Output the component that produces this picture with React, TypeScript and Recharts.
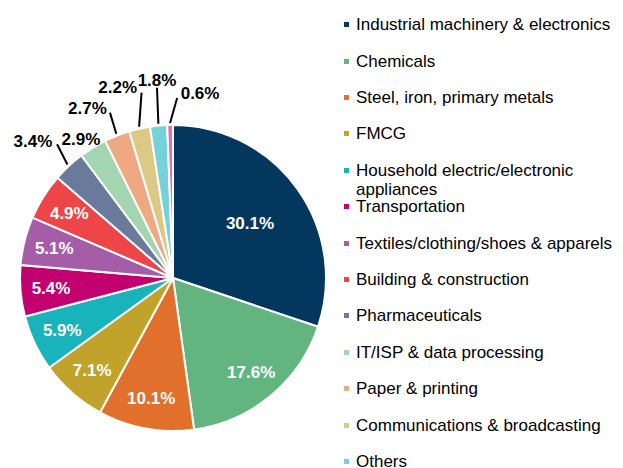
import React from "react";
import { PieChart, Pie, Cell, Legend } from "recharts";

const categories = [
  "Industrial machinery & electronics",
  "Chemicals",
  "Steel, iron, primary metals",
  "FMCG",
  "Household electric/electronic appliances",
  "Transportation",
  "Textiles/clothing/shoes & apparels",
  "Building & construction",
  "Pharmaceuticals",
  "IT/ISP & data processing",
  "Paper & printing",
  "Communications & broadcasting",
  "Others",
  "Unclassified",
];

const shares = [30.1, 17.6, 10.1, 7.1, 5.9, 5.4, 5.1, 4.9, 3.4, 2.9, 2.7, 2.2, 1.8, 0.6];

const colors = [
  "#04375E",
  "#63B57F",
  "#E0702C",
  "#C1A32B",
  "#19B4BB",
  "#C2006F",
  "#A65DA8",
  "#EE4548",
  "#6A7A9A",
  "#A2D5B0",
  "#EEA983",
  "#DBC985",
  "#75D2D8",
  "#E56DB1",
];

const data = categories.map((name, i) => ({ name, value: shares[i] }));

const FONT = "'Liberation Sans', Arial, Helvetica, sans-serif";
const LABEL_SIZE = 17;

// Outer label layout: offsets relative to slice mid-angle (clockwise degrees) and outer radius
const OUTER_LAYOUT: Record<number, { tDeg: number; tR: number; lDeg?: number; lR?: number }> = {
  8: { tDeg: -2.7, tR: 43, lDeg: 2, lR: 24 },
  9: { tDeg: -1.9, tR: 14 },
  10: { tDeg: -5.3, tR: 37, lDeg: 0.6, lR: 24 },
  11: { tDeg: -3.5, tR: 46, lDeg: 3, lR: 35 },
  12: { tDeg: 0.8, tR: 46, lDeg: 0.6, lR: 38 },
  13: { tDeg: 9.4, tR: 34, lDeg: 2.4, lR: 27 },
};

const pt = (cx: number, cy: number, r: number, degCw: number) => {
  const a = (degCw * Math.PI) / 180;
  return { x: cx + r * Math.sin(a), y: cy - r * Math.cos(a) };
};

const renderLabel = (props: any) => {
  const { cx, cy, midAngle, outerRadius, value, index } = props;
  const theta = 90 - midAngle;
  const text = `${Number(value).toFixed(1)}%`;
  const lay = OUTER_LAYOUT[index];
  if (!lay) {
    const r = value > 20 ? outerRadius * 0.62 : outerRadius * 0.8;
    const p = pt(cx, cy, r, theta);
    return (
      <text
        key={`l${index}`}
        x={p.x}
        y={p.y}
        dy="0.35em"
        textAnchor="middle"
        fill="#ffffff"
        fontFamily={FONT}
        fontWeight="bold"
        fontSize={LABEL_SIZE}
      >
        {text}
      </text>
    );
  }
  const tp = pt(cx, cy, outerRadius + lay.tR, theta + lay.tDeg);
  let line = null;
  if (lay.lR !== undefined) {
    const s = pt(cx, cy, outerRadius + 2, theta);
    const e = pt(cx, cy, outerRadius + lay.lR, theta + (lay.lDeg || 0));
    line = <line x1={s.x} y1={s.y} x2={e.x} y2={e.y} stroke="#000" strokeWidth={2} />;
  }
  return (
    <g key={`l${index}`}>
      {line}
      <text
        x={tp.x}
        y={tp.y}
        dy="0.35em"
        textAnchor="middle"
        fill="#000000"
        fontFamily={FONT}
        fontWeight="bold"
        fontSize={LABEL_SIZE}
      >
        {text}
      </text>
    </g>
  );
};

const renderLegend = (props: any) => {
  const payload = [...(props.payload || [])].sort(
    (a: any, b: any) => categories.indexOf(a.value) - categories.indexOf(b.value)
  );
  return (
    <div
      style={{
        position: "relative",
        width: 279,
        height: 460,
        overflow: "hidden",
        fontFamily: FONT,
        fontSize: 17,
        color: "#000",
      }}
    >
      {payload.map((p: any, i: number) => {
        const idx = categories.indexOf(p.value);
        const col = idx >= 0 ? colors[idx] : p.color;
        return (
          <div
            key={`li${i}`}
            style={{
              position: "absolute",
              top: 7.2 + i * 36.4,
              left: 0,
              width: 279,
              display: "flex",
              alignItems: "flex-start",
            }}
          >
            <span
              style={{
                display: "inline-block",
                width: 5,
                height: 5,
                background: col,
                marginTop: 7,
                marginRight: 7,
                flex: "0 0 auto",
              }}
            />
            <span style={{ lineHeight: "19px", width: 267, whiteSpace: "normal" }}>{p.value}</span>
          </div>
        );
      })}
    </div>
  );
};

export default function App() {
  return (
    <PieChart width={615} height={460} margin={{ top: 0, right: 0, bottom: 0, left: 0 }}>
      <Pie
        data={data}
        dataKey="value"
        nameKey="name"
        cx={165}
        cy={270}
        outerRadius={153}
        startAngle={90}
        endAngle={-270}
        stroke="#ffffff"
        strokeWidth={2}
        isAnimationActive={false}
        label={renderLabel}
        labelLine={false}
      >
        {data.map((d, i) => (
          <Cell key={`c${i}`} fill={colors[i]} />
        ))}
      </Pie>
      <Legend
        layout="vertical"
        verticalAlign="top"
        align="right"
        itemSorter={null as any}
        content={renderLegend}
        wrapperStyle={{ left: 336, top: 0, width: 279, height: 460 }}
      />
    </PieChart>
  );
}
